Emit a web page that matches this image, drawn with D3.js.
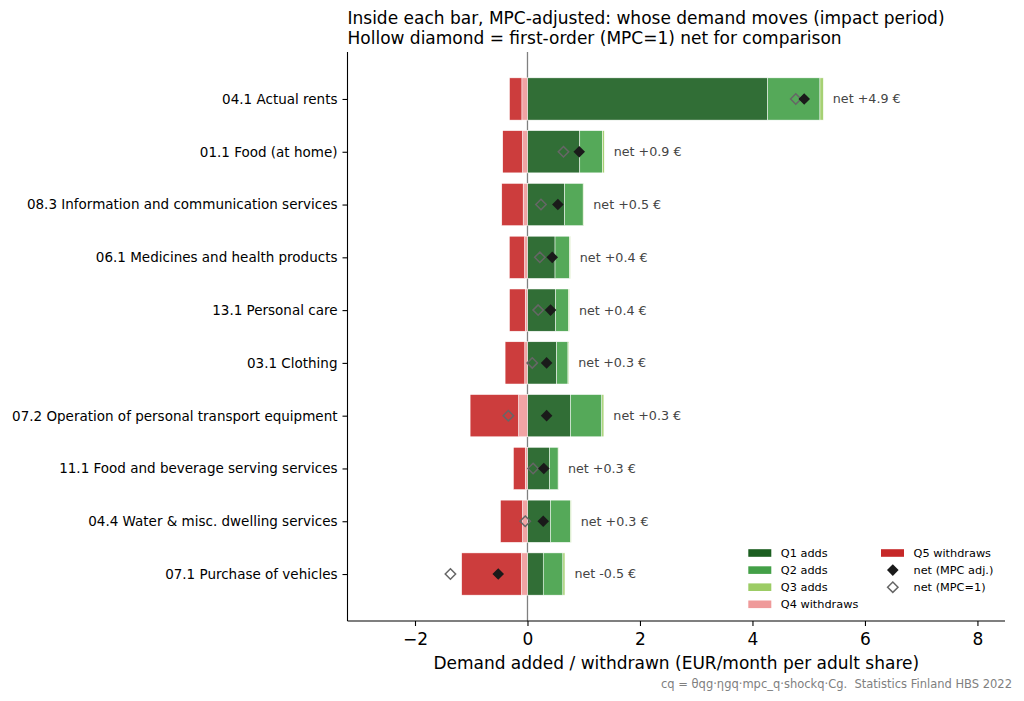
<!DOCTYPE html>
<html><head><meta charset="utf-8">
<script src="https://cdn.jsdelivr.net/npm/d3@7"></script>
<style>body{margin:0;background:#fff;} svg{display:block;font-family:"DejaVu Sans",sans-serif;}</style>
</head><body>
<svg id="chart" width="1024" height="701"></svg>
<script>
const categories = [
  "04.1 Actual rents",
  "01.1 Food (at home)",
  "08.3 Information and communication services",
  "06.1 Medicines and health products",
  "13.1 Personal care",
  "03.1 Clothing",
  "07.2 Operation of personal transport equipment",
  "11.1 Food and beverage serving services",
  "04.4 Water & misc. dwelling services",
  "07.1 Purchase of vehicles"
];
const q1Adds = [4.27, 0.93, 0.66, 0.49, 0.50, 0.52, 0.765, 0.39, 0.41, 0.28];
const q2Adds = [0.93, 0.40, 0.33, 0.26, 0.23, 0.20, 0.557, 0.155, 0.356, 0.35];
const q3Adds = [0.06, 0.035, 0.012, 0.012, 0.015, 0.015, 0.036, 0.006, 0.012, 0.036];
const q4Withdraws = [-0.10, -0.09, -0.077, -0.053, -0.04, -0.048, -0.16, -0.04, -0.09, -0.11];
const q5Withdraws = [-0.22, -0.35, -0.38, -0.27, -0.28, -0.35, -0.86, -0.21, -0.39, -1.06];
const netMPC = [4.92, 0.92, 0.54, 0.44, 0.41, 0.34, 0.34, 0.29, 0.28, -0.52];
const netMPC1 = [4.77, 0.64, 0.24, 0.22, 0.19, 0.085, -0.34, 0.10, -0.04, -1.37];
const xTicks = [-2, 0, 2, 4, 6, 8];

const colors = {q1:"#1b5e20", q2:"#43a047", q3:"#9ccc65", q4:"#ef9a9a", q5:"#c62828"};

const svg = d3.select("#chart");
const L = 347.5, R = 1005, T = 52, B = 621;
const x = d3.scaleLinear().domain([-3.2, 8.49]).range([L, R]);
const y = d3.scaleLinear().domain([-0.89, 9.89]).range([T, B]);
const barH = y(0.8) - y(0);

// zero line
svg.append("line").attr("x1", x(0)).attr("x2", x(0)).attr("y1", T).attr("y2", B)
  .attr("stroke", "#808080").attr("stroke-width", 1.3);

// stacked segments
const segs = [];
categories.forEach((c, i) => {
  let pos = 0;
  [["q1", q1Adds[i]], ["q2", q2Adds[i]], ["q3", q3Adds[i]]].forEach(([k, v]) => {
    segs.push({i, k, x0: pos, x1: pos + v}); pos += v;
  });
  let neg = 0;
  [["q4", q4Withdraws[i]], ["q5", q5Withdraws[i]]].forEach(([k, v]) => {
    segs.push({i, k, x0: neg + v, x1: neg}); neg += v;
  });
});
svg.append("g").selectAll("rect").data(segs).join("rect")
  .attr("x", d => x(d.x0)).attr("width", d => x(d.x1) - x(d.x0))
  .attr("y", d => y(d.i) - barH / 2).attr("height", barH)
  .attr("fill", d => colors[d.k]).attr("fill-opacity", 0.9)
  .attr("stroke", "#fff").attr("stroke-width", 0.5);

// diamonds
const diamond = s => `M0,${-s}L${s},0L0,${s}L${-s},0Z`;
svg.append("g").selectAll("path").data(netMPC1).join("path")
  .attr("transform", (d, i) => `translate(${x(d)},${y(i)})`)
  .attr("d", diamond(5.2)).attr("fill", "none").attr("stroke", "#666").attr("stroke-width", 1.5);
svg.append("g").selectAll("path").data(netMPC).join("path")
  .attr("transform", (d, i) => `translate(${x(d)},${y(i)})`)
  .attr("d", diamond(5.8)).attr("fill", "#1a1a1a");

// net labels
const fmt = v => (v >= 0 ? "+" : "-") + Math.abs(v).toFixed(1);
svg.append("g").selectAll("text").data(netMPC).join("text")
  .attr("x", (d, i) => x(q1Adds[i] + q2Adds[i] + q3Adds[i]) + 9.5)
  .attr("y", (d, i) => y(i)).attr("dy", "0.35em")
  .attr("font-size", 12.7).attr("fill", "#444")
  .text(d => `net ${fmt(d)} €`);

// axes
const xAxis = svg.append("g").attr("transform", `translate(0,${B})`)
  .call(d3.axisBottom(x).tickValues(xTicks).tickSize(5).tickPadding(6.5).tickFormat(d => d < 0 ? "\u2212" + Math.abs(d) : d));
xAxis.select(".domain").attr("d", `M${L},0H${R}`).attr("stroke", "#000").attr("stroke-width", 1.1);
xAxis.selectAll("text").attr("font-size", 17).attr("fill", "#000").attr("font-family", "DejaVu Sans");
xAxis.selectAll("line").attr("stroke-width", 1.1);

const yAxis = svg.append("g").attr("transform", `translate(${L},0)`)
  .call(d3.axisLeft(y).tickValues(d3.range(categories.length)).tickSize(5).tickPadding(5).tickFormat(i => categories[i]));
yAxis.select(".domain").attr("d", `M0,${T}V${B}`).attr("stroke", "#000").attr("stroke-width", 1.1);
yAxis.selectAll("text").attr("font-size", 13.5).attr("fill", "#000").attr("font-family", "DejaVu Sans");
yAxis.selectAll("line").attr("stroke-width", 1.1);

// x label
svg.append("text").attr("x", (L + R) / 2).attr("y", 668.5).attr("text-anchor", "middle")
  .attr("font-size", 17).attr("fill", "#000")
  .text("Demand added / withdrawn (EUR/month per adult share)");

// title
const title = svg.append("text").attr("x", L).attr("font-size", 17).attr("fill", "#000");
title.append("tspan").attr("x", L).attr("y", 24).text("Inside each bar, MPC-adjusted: whose demand moves (impact period)");
title.append("tspan").attr("x", L).attr("y", 44).text("Hollow diamond = first-order (MPC=1) net for comparison");

// footnote
svg.append("text").attr("x", 1012).attr("y", 688).attr("text-anchor", "end")
  .attr("font-size", 11.5).attr("fill", "#808080").style("white-space", "pre")
  .text("cq = θqg·ηgq·mpc_q·shockq·Cg.  Statistics Finland HBS 2022");

// legend
const legendItems = [
  {type:"patch", c: colors.q1, label:"Q1 adds", col:0, row:0},
  {type:"patch", c: colors.q2, label:"Q2 adds", col:0, row:1},
  {type:"patch", c: colors.q3, label:"Q3 adds", col:0, row:2},
  {type:"patch", c: colors.q4, label:"Q4 withdraws", col:0, row:3},
  {type:"patch", c: colors.q5, label:"Q5 withdraws", col:1, row:0},
  {type:"filled", label:"net (MPC adj.)", col:1, row:1},
  {type:"hollow", label:"net (MPC=1)", col:1, row:2}
];
const lg = svg.append("g");
const colX = [748.3, 881], rowY0 = 553, rowDY = 17.1;
legendItems.forEach(it => {
  const gx = colX[it.col], gy = rowY0 + it.row * rowDY;
  if (it.type === "patch") {
    lg.append("rect").attr("x", gx).attr("y", gy - 3.8).attr("width", 23).attr("height", 7.6).attr("fill", it.c);
  } else if (it.type === "filled") {
    lg.append("path").attr("transform", `translate(${gx + 11.8},${gy})`).attr("d", diamond(5.8)).attr("fill", "#1a1a1a");
  } else {
    lg.append("path").attr("transform", `translate(${gx + 11.8},${gy})`).attr("d", diamond(5.2)).attr("fill", "none").attr("stroke", "#666").attr("stroke-width", 1.5);
  }
  lg.append("text").attr("x", gx + 32.5).attr("y", gy).attr("dy", "0.35em")
    .attr("font-size", 11.3).attr("fill", "#000").text(it.label);
});
</script>
</body></html>
